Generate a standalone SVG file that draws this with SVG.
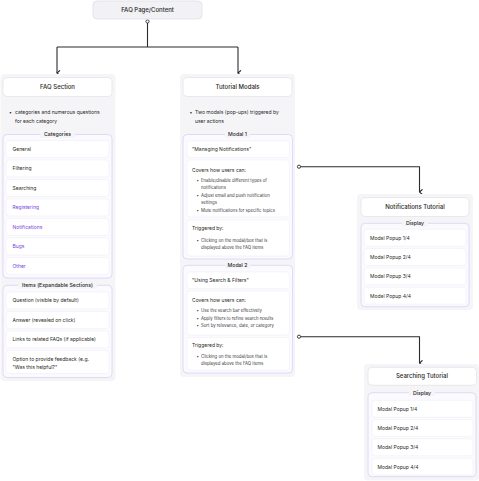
<svg xmlns="http://www.w3.org/2000/svg" width="479" height="481" viewBox="0 0 479 481">
<defs>
<style>
text{font-family:Inter,"Noto Sans","Liberation Sans",sans-serif;fill:#1f1f24}
.panel{fill:#f5f5f8}
.card{fill:#fff;stroke:#e3e3ea;stroke-width:0.8}
.top{fill:#f2f2f6;stroke:#dedee6;stroke-width:0.8}
.grp{fill:#fbfaff;stroke:#dcd6f6;stroke-width:0.9}
.item{fill:#fff;stroke:#f0eff5;stroke-width:0.6}
.lblbg{fill:#f5f5f8}
.t{font-size:6px;font-weight:500;text-anchor:middle}
.gl{font-size:5.2px;font-weight:500;text-anchor:middle}
.b{font-size:5px}
.s{font-size:4.3px;fill:#3a3a40}
.p{fill:#7a3fe0}
.conn{fill:none;stroke:#2a2a2e;stroke-width:1.1}
.dot{fill:#fff;stroke:#2a2a2e;stroke-width:0.9}
</style>
<marker id="arr" viewBox="0 0 7 7" refX="3.5" refY="6" markerWidth="7" markerHeight="7" markerUnits="userSpaceOnUse" orient="auto-start-reverse">
<path d="M0.8,3 L3.5,6 L6.2,3" fill="none" stroke="#2a2a2e" stroke-width="1.1"/>
</marker>
</defs>

<g id="connectors">
<circle class="dot" cx="147.5" cy="21.5" r="1.6"/>
<path class="conn" d="M147.5,23.1 V47 M57,47 H238" />
<path class="conn" d="M57,47 V73" marker-end="url(#arr)"/>
<path class="conn" d="M238,47 V73" marker-end="url(#arr)"/>
<circle class="dot" cx="299" cy="166.7" r="1.6"/>
<path class="conn" d="M300.6,166.7 H419.5 V192" marker-end="url(#arr)"/>
<circle class="dot" cx="299" cy="336.7" r="1.6"/>
<path class="conn" d="M300.6,336.7 H419.5 V363" marker-end="url(#arr)"/>
</g>

<g id="faq-page">
<rect class="top" x="93" y="1" width="109" height="18" rx="4"/>
<text class="t" x="147.5" y="12.1">FAQ Page/Content</text>
</g>

<g id="faq-section">
<rect class="panel" x="0.5" y="74" width="115" height="307" rx="4"/>
<rect class="card" x="3" y="77.5" width="109" height="19" rx="4"/>
<text class="t" x="57.5" y="89.1">FAQ Section</text>
<text class="b" x="9" y="114">•</text>
<text class="b" x="15" y="114">categories and numerous questions</text>
<text class="b" x="15" y="122.5">for each category</text>
</g>

<g id="categories">
<rect class="grp" x="3" y="134.5" width="109" height="143.5" rx="4"/>
<rect class="lblbg" x="40" y="131" width="35" height="7"/>
<text class="gl" x="57.5" y="136.4">Categories</text>
<rect class="item" x="6" y="140.5" width="103" height="17" rx="3"/>
<text class="b" x="12.5" y="150.8">General</text>
<rect class="item" x="6" y="160" width="103" height="17" rx="3"/>
<text class="b" x="12.5" y="170.3">Filtering</text>
<rect class="item" x="6" y="179.5" width="103" height="17" rx="3"/>
<text class="b" x="12.5" y="189.8">Searching</text>
<rect class="item" x="6" y="199" width="103" height="17" rx="3"/>
<text class="b p" x="12.5" y="209.3">Registering</text>
<rect class="item" x="6" y="218.5" width="103" height="17" rx="3"/>
<text class="b p" x="12.5" y="228.8">Notifications</text>
<rect class="item" x="6" y="238" width="103" height="17" rx="3"/>
<text class="b p" x="12.5" y="248.3">Bugs</text>
<rect class="item" x="6" y="257.5" width="103" height="17" rx="3"/>
<text class="b p" x="12.5" y="267.8">Other</text>
</g>

<g id="items">
<rect class="grp" x="3" y="285.3" width="109" height="92.2" rx="4"/>
<rect class="lblbg" x="18" y="281.8" width="79" height="7"/>
<text class="gl" x="57.5" y="287.2">Items (Expandable Sections)</text>
<rect class="item" x="6" y="292" width="103" height="17" rx="3"/>
<text class="b" x="12.5" y="302.3">Question (visible by default)</text>
<rect class="item" x="6" y="311.5" width="103" height="17" rx="3"/>
<text class="b" x="12.5" y="321.8">Answer (revealed on click)</text>
<rect class="item" x="6" y="331" width="103" height="17" rx="3"/>
<text class="b" x="12.5" y="341.3">Links to related FAQs (if applicable)</text>
<rect class="item" x="6" y="350.5" width="103" height="23" rx="3"/>
<text class="b" x="12.5" y="361.1">Option to provide feedback (e.g.</text>
<text class="b" x="12.5" y="368.5">"Was this helpful?"</text>
</g>

<g id="tutorial-modals">
<rect class="panel" x="180" y="74" width="115" height="303" rx="4"/>
<rect class="card" x="183" y="77.5" width="109" height="19" rx="4"/>
<text class="t" x="237.5" y="89.1">Tutorial Modals</text>
<text class="b" x="189.5" y="114">•</text>
<text class="b" x="195" y="114">Two modals (pop-ups) triggered by</text>
<text class="b" x="195" y="122.5">user actions</text>
</g>

<g id="modal-1">
<rect class="grp" x="183" y="134.5" width="109.5" height="124.5" rx="4"/>
<rect class="lblbg" x="225" y="131" width="25" height="7"/>
<text class="gl" x="237.5" y="136.4">Modal 1</text>
<rect class="item" x="187" y="141" width="102.5" height="16.5" rx="3"/>
<text class="b" x="192" y="150.9">"Managing Notifications"</text>
<rect class="item" x="187" y="160" width="102.5" height="57" rx="3"/>
<text class="b" x="192" y="171.5">Covers how users can:</text>
<text class="s" x="196.5" y="181.5">•</text>
<text class="s" x="201" y="181.5">Enable/disable different types of</text>
<text class="s" x="201" y="189">notifications</text>
<text class="s" x="196.5" y="196.5">•</text>
<text class="s" x="201" y="196.5">Adjust email and push notification</text>
<text class="s" x="201" y="204">settings</text>
<text class="s" x="196.5" y="211.5">•</text>
<text class="s" x="201" y="211.5">Mute notifications for specific topics</text>
<rect class="item" x="187" y="220" width="102.5" height="36" rx="3"/>
<text class="b" x="192" y="229.7">Triggered by:</text>
<text class="s" x="196.5" y="241.5">•</text>
<text class="s" x="201" y="241.5">Clicking on the modal/box that is</text>
<text class="s" x="201" y="249">displayed above the FAQ items</text>
</g>

<g id="modal-2">
<rect class="grp" x="183" y="265.3" width="109.5" height="107.7" rx="4"/>
<rect class="lblbg" x="225" y="261.8" width="25" height="7"/>
<text class="gl" x="237.5" y="267.2">Modal 2</text>
<rect class="item" x="187" y="272" width="102.5" height="16.5" rx="3"/>
<text class="b" x="192" y="281.9">"Using Search &amp; Filters"</text>
<rect class="item" x="187" y="291" width="102.5" height="44" rx="3"/>
<text class="b" x="192" y="301.8">Covers how users can:</text>
<text class="s" x="196.5" y="312">•</text>
<text class="s" x="201" y="312">Use the search bar effectively</text>
<text class="s" x="196.5" y="319.5">•</text>
<text class="s" x="201" y="319.5">Apply filters to refine search results</text>
<text class="s" x="196.5" y="327">•</text>
<text class="s" x="201" y="327">Sort by relevance, date, or category</text>
<rect class="item" x="187" y="337.5" width="102.5" height="32.5" rx="3"/>
<text class="b" x="192" y="346.8">Triggered by:</text>
<text class="s" x="196.5" y="357.5">•</text>
<text class="s" x="201" y="357.5">Clicking on the modal/box that is</text>
<text class="s" x="201" y="365">displayed above the FAQ items</text>
</g>

<g id="notifications-tutorial">
<rect class="panel" x="357" y="194" width="116" height="116" rx="4"/>
<rect class="card" x="361" y="197.5" width="108" height="19" rx="4"/>
<text class="t" x="415" y="209.1">Notifications Tutorial</text>
<rect class="grp" x="361" y="223.3" width="108" height="83.4" rx="4"/>
<rect class="lblbg" x="402" y="219.8" width="26" height="7"/>
<text class="gl" x="415" y="225.2">Display</text>
<rect class="item" x="364" y="229.2" width="102" height="17" rx="3"/>
<text class="b" x="370" y="239.5">Modal Popup 1/4</text>
<rect class="item" x="364" y="248.5" width="102" height="17" rx="3"/>
<text class="b" x="370" y="258.8">Modal Popup 2/4</text>
<rect class="item" x="364" y="267.8" width="102" height="17" rx="3"/>
<text class="b" x="370" y="278.1">Modal Popup 3/4</text>
<rect class="item" x="364" y="287.2" width="102" height="17" rx="3"/>
<text class="b" x="370" y="297.5">Modal Popup 4/4</text>
</g>

<g id="searching-tutorial">
<rect class="panel" x="364" y="364" width="115" height="116.5" rx="4"/>
<rect class="card" x="368" y="367.3" width="108.5" height="18" rx="4"/>
<text class="t" x="422" y="378.4">Searching Tutorial</text>
<rect class="grp" x="368" y="392.7" width="108" height="84" rx="4"/>
<rect class="lblbg" x="409" y="389.2" width="26" height="7"/>
<text class="gl" x="422" y="394.6">Display</text>
<rect class="item" x="372" y="400.2" width="101" height="17" rx="3"/>
<text class="b" x="377.5" y="410.5">Modal Popup 1/4</text>
<rect class="item" x="372" y="419.5" width="101" height="17" rx="3"/>
<text class="b" x="377.5" y="429.8">Modal Popup 2/4</text>
<rect class="item" x="372" y="438.8" width="101" height="17" rx="3"/>
<text class="b" x="377.5" y="449.1">Modal Popup 3/4</text>
<rect class="item" x="372" y="458.2" width="101" height="17" rx="3"/>
<text class="b" x="377.5" y="468.5">Modal Popup 4/4</text>
</g>
</svg>
